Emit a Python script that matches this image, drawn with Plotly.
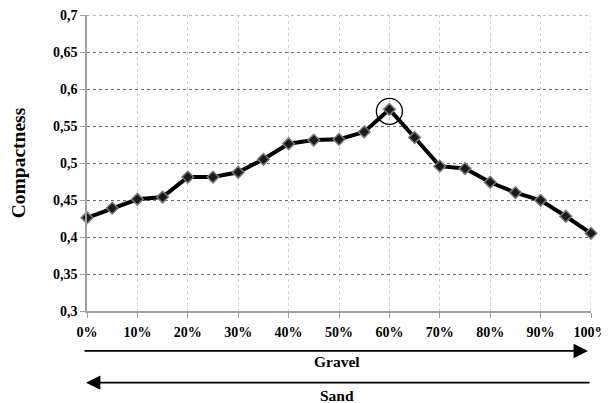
import plotly.graph_objects as go

gravel_pct = [0, 5, 10, 15, 20, 25, 30, 35, 40, 45, 50, 55, 60, 65, 70, 75, 80, 85, 90, 95, 100]
compactness = [0.426, 0.439, 0.451, 0.454, 0.481, 0.481, 0.4875, 0.505, 0.526, 0.531, 0.532, 0.542,
               0.5725, 0.5345, 0.4957, 0.4925, 0.474, 0.460, 0.4496, 0.428, 0.405]
x_ticks = [0, 10, 20, 30, 40, 50, 60, 70, 80, 90, 100]
y_ticks = [0.3, 0.35, 0.4, 0.45, 0.5, 0.55, 0.6, 0.65, 0.7]
peak_index = 12

serif = "Liberation Serif, Times New Roman, serif"

fig = go.Figure()
fig.add_trace(go.Scatter(
    x=gravel_pct, y=compactness, mode="lines+markers",
    line=dict(color="#000000", width=4),
    marker=dict(symbol="diamond", size=9, color="#1a1a1a",
                line=dict(color="#7a7a7a", width=1.5)),
    cliponaxis=False, showlegend=False,
))

# circle around peak
fig.add_shape(type="circle", xref="x", yref="y",
              xsizemode="pixel", ysizemode="pixel",
              xanchor=gravel_pct[peak_index], yanchor=compactness[peak_index],
              x0=-13, x1=13, y0=-15, y1=11,
              line=dict(color="#000000", width=1.3))

# Gravel arrow (left to right)
fig.add_annotation(x=0.994, y=-0.135, xref="paper", yref="paper",
                   ax=-505, ay=0, axref="pixel", ayref="pixel",
                   showarrow=True, arrowhead=2, arrowsize=1.6, arrowwidth=1.8,
                   arrowcolor="#000000", text="", standoff=0)
fig.add_annotation(x=0.497, y=-0.171, xref="paper", yref="paper", text="Gravel",
                   xanchor="center", yanchor="middle",
                   showarrow=False, font=dict(family=serif, size=15.5, color="#000000", weight="bold"))
# Sand arrow (right to left)
fig.add_annotation(x=-0.002, y=-0.242, xref="paper", yref="paper",
                   ax=505, ay=0, axref="pixel", ayref="pixel",
                   showarrow=True, arrowhead=2, arrowsize=1.6, arrowwidth=1.8,
                   arrowcolor="#000000", text="", standoff=0)
fig.add_annotation(x=0.497, y=-0.286, xref="paper", yref="paper", text="Sand",
                   xanchor="center", yanchor="middle",
                   showarrow=False, font=dict(family=serif, size=15.5, color="#000000", weight="bold"))

# page body adds an 8px margin, so the figure is 8px smaller and margins shifted
fig.update_layout(
    width=601, height=395,
    margin=dict(l=79, r=18, t=7, b=92),
    paper_bgcolor="#ffffff", plot_bgcolor="#ffffff",
    separators=", ",
    font=dict(family=serif, size=13, color="#000000"),
)
fig.update_xaxes(
    range=[0, 100], tickvals=x_ticks, ticktext=[f"{v}%" for v in x_ticks],
    showgrid=True, gridcolor="#d0d0d0", griddash="dot", gridwidth=1,
    showline=True, linecolor="#a0a0a0", linewidth=1.5,
    ticks="outside", ticklen=5, tickcolor="#a0a0a0", ticklabelstandoff=2,
    tickfont=dict(family=serif, size=14, color="#000000", weight="bold"),
    zeroline=False, mirror=False, automargin=False, ticklabeloverflow="allow",
)
fig.update_yaxes(
    range=[0.3, 0.7], tickvals=y_ticks,
    showgrid=True, gridcolor="#707070", griddash="dot", gridwidth=1,
    showline=True, linecolor="#a0a0a0", linewidth=1.5,
    ticks="outside", ticklen=5, tickcolor="#a0a0a0",
    tickfont=dict(family=serif, size=14, color="#000000", weight="bold"),
    title=dict(text="Compactness", standoff=24,
               font=dict(family=serif, size=19.5, color="#000000", weight="bold")),
    zeroline=False, automargin=False, ticklabeloverflow="allow",
)
# top gridline and right border gridline
fig.add_shape(type="line", xref="paper", yref="y", x0=0, x1=1, y0=y_ticks[-1], y1=y_ticks[-1],
              line=dict(color="#707070", width=1, dash="dot"), layer="below")
fig.add_shape(type="line", xref="x", yref="paper", x0=x_ticks[-1], x1=x_ticks[-1], y0=0, y1=1,
              line=dict(color="#d0d0d0", width=1, dash="dot"), layer="below")

fig.write_html("out.html")
